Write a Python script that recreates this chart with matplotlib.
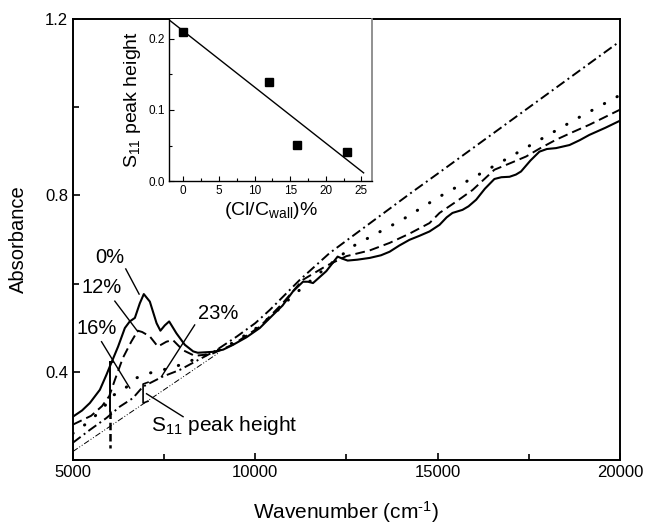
import numpy as np
import matplotlib
matplotlib.use('Agg')
import matplotlib.pyplot as plt
from matplotlib.ticker import MultipleLocator, FormatStrFormatter

plt.rcParams.update({
    "font.family": ["Liberation Sans", "DejaVu Sans"],
    "mathtext.fontset": "custom",
    "mathtext.rm": "Liberation Sans",
    "mathtext.it": "Liberation Sans",
    "mathtext.default": "regular",
})

# spectra (wavenumber in cm^-1, absorbance)
wn_0 = [5000, 5250, 5465, 5740, 5920, 6014, 6240, 6425, 6560, 6630, 6700, 6835, 6945,
        7110, 7295, 7400, 7520, 7640, 7840, 8070, 8300, 8425, 8835, 9120, 9393,
        9760, 10125, 10490, 10750, 11035, 11310, 11450, 11585, 11950, 12260, 12400,
        12535, 12800, 13140, 13450, 13685, 13950, 14230, 14500, 14780, 15055, 15250,
        15410, 15685, 15850, 16060, 16300, 16560, 16750, 16975, 17150, 17290, 17550,
        17795, 18000, 18250, 18620, 18900, 19165, 19600, 20000]
abs_0 = [0.298, 0.312, 0.329, 0.359, 0.393, 0.412, 0.457, 0.499, 0.514, 0.518, 0.522, 0.555, 0.576,
         0.559, 0.510, 0.493, 0.505, 0.514, 0.487, 0.461, 0.446, 0.443, 0.445, 0.450, 0.461,
         0.478, 0.499, 0.529, 0.550, 0.582, 0.604, 0.604, 0.601, 0.628, 0.661, 0.656,
         0.652, 0.654, 0.658, 0.664, 0.672, 0.686, 0.699, 0.708, 0.718, 0.733, 0.750,
         0.760, 0.767, 0.775, 0.790, 0.815, 0.837, 0.841, 0.842, 0.847, 0.854, 0.879,
         0.899, 0.905, 0.907, 0.914, 0.925, 0.937, 0.953, 0.969]

wn_12 = [5000, 5500, 5800, 6000, 6150, 6370, 6600, 6780, 6900, 7110, 7330, 7565,
         7740, 8015, 8340, 8800, 9400, 10125, 10750, 11300, 11950, 12500, 13140,
         13685, 14230, 14780, 15055, 15500, 15960, 16300, 16560, 17000, 17430, 17800,
         18250, 18700, 19165, 20000]
abs_12 = [0.280, 0.300, 0.322, 0.345, 0.381, 0.431, 0.468, 0.493, 0.490, 0.480, 0.457, 0.468,
          0.472, 0.449, 0.436, 0.440, 0.462, 0.502, 0.555, 0.608, 0.640, 0.662, 0.675,
          0.692, 0.713, 0.737, 0.760, 0.785, 0.812, 0.838, 0.858, 0.873, 0.888, 0.906,
          0.926, 0.943, 0.960, 0.994]

wn_16 = [5000, 5500, 5900, 6050, 6200, 6400, 6745, 7110, 7465, 7930, 8400, 8900,
         9400, 10000, 10500, 11000, 11500, 12000, 12670, 14040, 15055, 16840, 18800, 20000]
abs_16 = [0.260, 0.290, 0.325, 0.345, 0.350, 0.360, 0.386, 0.397, 0.404, 0.415, 0.430, 0.446,
          0.466, 0.497, 0.530, 0.570, 0.605, 0.640, 0.684, 0.745, 0.797, 0.880, 0.973, 1.027]

wn_23 = [5000, 5465, 5920, 6290, 6645, 6920, 7465, 7930, 8400, 8900, 9500, 10000,
         10400, 11220, 12040, 14315, 15055, 19300, 20000]
abs_23 = [0.239, 0.268, 0.295, 0.321, 0.340, 0.366, 0.389, 0.404, 0.425, 0.447, 0.480, 0.510,
          0.540, 0.608, 0.669, 0.808, 0.852, 1.107, 1.149]

wn_base = [5000, 9000]
abs_base = [0.219, 0.443]

# inset: S11 peak height vs Cl/C_wall
cl_ratio = [0, 12, 16, 23]
s11_height = [0.21, 0.14, 0.051, 0.041]

# labels with their leader lines: text, text pos, line start, line end
labels = [
    ("0%",  (6010, 0.660), (6450, 0.633), (6816, 0.576)),
    ("12%", (5795, 0.592), (6150, 0.560), (6780, 0.491)),
    ("16%", (5658, 0.499), (5786, 0.468), (6560, 0.363)),
    ("23%", (8973, 0.533), (8340, 0.506), (7430, 0.389)),
]

fig = plt.figure(figsize=(6.45, 5.25), dpi=100)
ax = fig.add_axes([0.113, 0.124, 0.848, 0.840])

ax.plot(wn_base, abs_base, color='black', lw=0.7, ls=(0, (6, 2, 1, 2, 1, 2)))
ax.plot(wn_23, abs_23, color='black', lw=1.4, ls=(0, (5, 2, 1, 2)))
ax.plot(wn_16, abs_16, color='black', lw=2.2, ls=(0, (0.1, 4.6)), dash_capstyle='round')
ax.plot(wn_12, abs_12, color='black', lw=1.4, ls=(0, (5, 2.6)))
ax.plot(wn_0, abs_0, color='black', lw=1.5)

# 16% marker at ~6030 cm-1
ax.plot([6030, 6030], [0.423, 0.31], color='black', lw=1.4)
ax.plot([6030, 6030], [0.31, 0.228], color='black', lw=1.8, ls=(0, (3, 1.5)))
ax.plot([6030, 6110], [0.423, 0.423], color='black', lw=1.2)

# S11 bracket on the 23% spectrum
ax.plot([7060, 6925, 6925, 7060], [0.376, 0.372, 0.329, 0.333], color='black', lw=1.2)
ax.plot([7020, 8022], [0.350, 0.298], color='black', lw=1.0)
ax.text(7150, 0.277, r'S$_{11}$ peak height', fontsize=15, ha='left', va='center')

for txt, tpos, p0, p1 in labels:
    ax.text(tpos[0], tpos[1], txt, fontsize=14.5, ha='center', va='center')
    ax.plot([p0[0], p1[0]], [p0[1], p1[1]], color='black', lw=1.0)

ax.set_xlim(5000, 20000)
ax.set_ylim(0.2, 1.2)
ax.xaxis.set_major_locator(MultipleLocator(5000))
ax.xaxis.set_minor_locator(MultipleLocator(2500))
ax.set_yticks([0.4, 0.8, 1.2])
ax.yaxis.set_minor_locator(MultipleLocator(0.2))
ax.yaxis.set_major_formatter(FormatStrFormatter('%.1f'))
ax.tick_params(which='both', direction='in', labelsize=12, width=1.2)
ax.tick_params(which='major', length=5)
ax.tick_params(which='minor', length=4)
for s in ax.spines.values():
    s.set_linewidth(1.4)
ax.set_xlabel('Wavenumber (cm$^{\u2010 1}$)', fontsize=15, labelpad=14)
ax.set_ylabel('Absorbance', fontsize=14.5, labelpad=12)

# inset
ins = fig.add_axes([0.262, 0.655, 0.315, 0.309])
ins.plot(cl_ratio, s11_height, 's', color='black', ms=5.5)
k, b = np.polyfit(cl_ratio, s11_height, 1)
xf = np.array([-2.0, 25.3])
ins.plot(xf, k * xf + b, color='black', lw=1.0)
ins.set_xlim(-2, 26.5)
ins.set_ylim(0, 0.228)
ins.xaxis.set_major_locator(MultipleLocator(5))
ins.xaxis.set_minor_locator(MultipleLocator(2.5))
ins.yaxis.set_major_locator(MultipleLocator(0.1))
ins.yaxis.set_minor_locator(MultipleLocator(0.05))
ins.yaxis.set_major_formatter(FormatStrFormatter('%.1f'))
ins.tick_params(which='both', direction='in', labelsize=8.5, width=0.8, pad=3)
ins.tick_params(which='major', length=3.5)
ins.tick_params(which='minor', length=2.5)
ins.spines['top'].set_visible(False)
ins.spines['right'].set_color('#888888')
ins.spines['right'].set_linewidth(1.3)
for s in ['left', 'bottom']:
    ins.spines[s].set_linewidth(1.0)
ins.set_xlabel(r'(Cl/C$_{wall}$)%', fontsize=14, labelpad=2)
ins.set_ylabel(r'S$_{11}$ peak height', fontsize=14, labelpad=4)

fig.savefig('out.png', dpi=100)
